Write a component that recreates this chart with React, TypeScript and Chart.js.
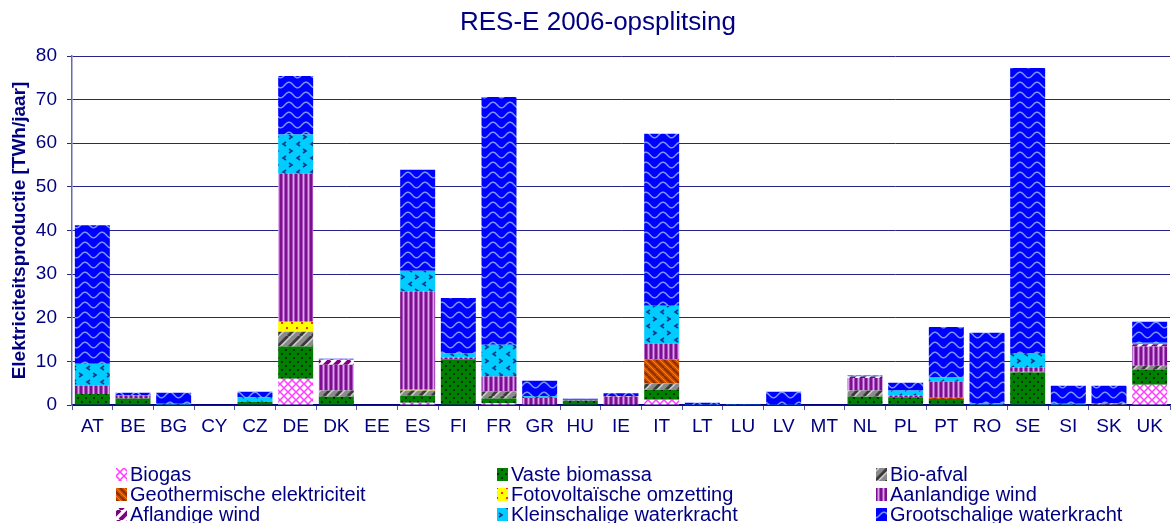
import React, { useEffect, useRef } from "react";
import { Chart, registerables } from "chart.js";

Chart.register(...registerables);

const countries = ["AT","BE","BG","CY","CZ","DE","DK","EE","ES","FI","FR","GR","HU","IE","IT","LT","LU","LV","MT","NL","PL","PT","RO","SE","SI","SK","UK"];

const biogas =        [0, 0.1, 0, 0, 0, 6.0, 0, 0, 0.5, 0, 0.45, 0, 0, 0.1, 1.2, 0, 0, 0, 0, 0, 0, 0, 0, 0, 0, 0, 4.65];
const vasteBiomassa = [2.5, 1.4, 0, 0, 0.75, 7.4, 1.9, 0, 1.6, 10.5, 1.05, 0, 1.0, 0, 2.3, 0, 0, 0, 0, 1.9, 1.75, 1.4, 0, 7.45, 0, 0, 3.5];
const bioAfval =      [0, 0, 0, 0, 0, 3.4, 1.4, 0, 1.2, 0, 1.6, 0, 0, 0, 1.4, 0, 0, 0, 0, 1.4, 0, 0, 0, 0.15, 0, 0.4, 0.85];
const geothermisch =  [0, 0, 0, 0, 0, 0, 0, 0, 0, 0, 0.1, 0, 0, 0, 5.6, 0, 0, 0, 0, 0, 0, 0.25, 0, 0, 0, 0, 0];
const fotovoltaisch = [0, 0, 0, 0, 0, 2.3, 0, 0, 0.2, 0, 0, 0, 0, 0, 0.05, 0, 0, 0, 0, 0, 0, 0, 0, 0, 0, 0, 0];
const aanlandigeWind =[1.9, 0.7, 0, 0, 0, 33.9, 5.9, 0, 22.5, 0.4, 3.35, 1.6, 0.1, 1.8, 3.5, 0, 0, 0, 0, 2.9, 0.45, 3.7, 0, 1.0, 0, 0, 4.4];
const aflandigeWind = [0, 0, 0, 0, 0, 0, 1.2, 0, 0, 0, 0, 0, 0, 0.1, 0, 0, 0, 0, 0, 0.35, 0, 0, 0, 0, 0, 0, 0.55];
const kleinWater =    [5.05, 0.1, 0.3, 0, 1.0, 9.0, 0.15, 0, 4.75, 0.9, 7.25, 0.4, 0.1, 0, 8.7, 0.05, 0.15, 0.05, 0, 0.1, 1.1, 0.95, 0.45, 3.3, 0.3, 0, 0.3];
const grootWater =    [31.75, 0.5, 2.5, 0, 1.3, 13.4, 0.05, 0, 23.15, 12.7, 56.8, 3.55, 0.25, 0.7, 39.4, 0.45, 0.1, 3.0, 0, 0.1, 1.8, 11.6, 16.1, 65.35, 4.1, 4.0, 4.85];

const seriesLabels = [
  "Biogas", "Vaste biomassa", "Bio-afval",
  "Geothermische elektriciteit", "Fotovoltaïsche omzetting", "Aanlandige wind",
  "Aflandige wind", "Kleinschalige waterkracht", "Grootschalige waterkracht",
];
const seriesData = [biogas, vasteBiomassa, bioAfval, geothermisch, fotovoltaisch, aanlandigeWind, aflandigeWind, kleinWater, grootWater];

const yTicks = [0, 10, 20, 30, 40, 50, 60, 70, 80];
const titleText = "RES-E 2006-opsplitsing";
const yTitle = "Elektriciteitsproductie [TWh/jaar]";

const FONT = '"Liberation Sans", Arial, Helvetica, sans-serif';
const NAVY = "#000080";

type Draw = (g: CanvasRenderingContext2D, w: number, h: number) => void;
function makePattern(w: number, h: number, draw: Draw): CanvasPattern {
  const c = document.createElement("canvas");
  c.width = w;
  c.height = h;
  const g = c.getContext("2d")!;
  draw(g, w, h);
  return g.createPattern(c, "repeat")!;
}

function buildPatterns(): CanvasPattern[] {
  const biogasP = makePattern(8, 8, (g, w, h) => {
    g.fillStyle = "#ffffff"; g.fillRect(0, 0, w, h);
    g.strokeStyle = "#ff3cff"; g.lineWidth = 1.5;
    g.beginPath();
    g.moveTo(0, 0); g.lineTo(8, 8);
    g.moveTo(8, 0); g.lineTo(0, 8);
    g.stroke();
  });
  const biomassP = makePattern(8, 8, (g, w, h) => {
    g.fillStyle = "#008000"; g.fillRect(0, 0, w, h);
    g.fillStyle = "#003000";
    g.fillRect(1, 1, 2, 2);
    g.fillRect(5, 5, 2, 2);
  });
  const afvalP = makePattern(12, 12, (g, w, h) => {
    g.fillStyle = "#8a8a8a"; g.fillRect(0, 0, w, h);
    g.lineWidth = 3; g.strokeStyle = "#3a3a3a";
    g.beginPath();
    for (const o of [-12, 0, 12]) { g.moveTo(o, 12); g.lineTo(o + 12, 0); }
    g.stroke();
    g.lineWidth = 1.5; g.strokeStyle = "#d0d0d0";
    g.beginPath();
    for (const o of [-12, 0, 12]) { g.moveTo(o + 3, 12); g.lineTo(o + 15, 0); }
    g.stroke();
  });
  const geoP = makePattern(8, 8, (g, w, h) => {
    g.fillStyle = "#cc5200"; g.fillRect(0, 0, w, h);
    g.lineWidth = 2; g.strokeStyle = "#8a3000";
    g.beginPath();
    for (const o of [-8, 0, 8]) { g.moveTo(o, 0); g.lineTo(o + 8, 8); }
    g.stroke();
    g.lineWidth = 1; g.strokeStyle = "#ff7a1a";
    g.beginPath();
    for (const o of [-8, 0, 8]) { g.moveTo(o + 4, 0); g.lineTo(o + 12, 8); }
    g.stroke();
  });
  const pvP = makePattern(10, 10, (g, w, h) => {
    g.fillStyle = "#ffff00"; g.fillRect(0, 0, w, h);
    g.fillStyle = "#ff3000";
    g.fillRect(1, 2, 2, 2);
    g.fillRect(6, 7, 2, 2);
  });
  const windP = makePattern(5, 2, (g) => {
    const cols = ["#7d0f8c", "#7d0f8c", "#a850bf", "#dba4ea", "#a850bf"];
    cols.forEach((c, i) => { g.fillStyle = c; g.fillRect(i, 0, 1, 2); });
  });
  const offP = makePattern(10, 10, (g, w, h) => {
    g.fillStyle = "#ffffff"; g.fillRect(0, 0, w, h);
    g.lineWidth = 4; g.strokeStyle = "#800080";
    g.beginPath();
    for (const o of [-10, 0, 10]) { g.moveTo(o, 10); g.lineTo(o + 10, 0); }
    g.stroke();
  });
  const kleinP = makePattern(14, 14, (g, w, h) => {
    g.fillStyle = "#00ccff"; g.fillRect(0, 0, w, h);
    g.strokeStyle = "#0a3a8a"; g.lineWidth = 1.6;
    g.beginPath();
    g.moveTo(6, 2); g.lineTo(3, 4); g.lineTo(6, 6);
    g.moveTo(9, 9); g.lineTo(12, 11); g.lineTo(9, 13);
    g.stroke();
  });
  const grootP = makePattern(17, 10, (g, w, h) => {
    g.fillStyle = "#0000ff"; g.fillRect(0, 0, w, h);
    g.strokeStyle = "#7397ff"; g.lineWidth = 1.6;
    for (const oy of [-10, 0, 10]) {
      g.beginPath();
      for (let x = -1; x <= 18; x += 0.5) {
        const y = oy + 5 - 2.8 * Math.cos((2 * Math.PI * x) / 17);
        if (x === -1) g.moveTo(x, y); else g.lineTo(x, y);
      }
      g.stroke();
    }
  });
  return [biogasP, biomassP, afvalP, geoP, pvP, windP, offP, kleinP, grootP];
}

export default function App() {
  const ref = useRef<HTMLCanvasElement | null>(null);

  useEffect(() => {
    if (!ref.current) return;
    const patterns = buildPatterns();

    const titlePlugin = {
      id: "customTitle",
      afterDraw(chart: any) {
        const ctx = chart.ctx as CanvasRenderingContext2D;
        ctx.save();
        ctx.font = `26px ${FONT}`;
        ctx.fillStyle = NAVY;
        ctx.textAlign = "center";
        ctx.textBaseline = "alphabetic";
        ctx.fillText(titleText, 598, 30);
        ctx.restore();
      },
    };

    const legendPlugin = {
      id: "customLegend",
      afterDraw(chart: any) {
        const ctx = chart.ctx as CanvasRenderingContext2D;
        const colX = [116, 497, 876];
        const rowY = [474, 494, 514];
        ctx.save();
        ctx.font = `20px ${FONT}`;
        ctx.textBaseline = "middle";
        ctx.textAlign = "left";
        seriesLabels.forEach((label, i) => {
          const col = i % 3;
          const row = Math.floor(i / 3);
          const x = colX[col];
          const y = rowY[row];
          ctx.fillStyle = patterns[i];
          ctx.fillRect(x, y - 6, 11, 13);
          ctx.fillStyle = NAVY;
          ctx.fillText(label, x + 14, y + 1);
        });
        ctx.restore();
      },
    };

    const chart = new Chart(ref.current, {
      type: "bar",
      data: {
        labels: countries,
        datasets: seriesData.map((d, i) => ({
          label: seriesLabels[i],
          data: d,
          backgroundColor: patterns[i],
          borderWidth: 0,
          barPercentage: 0.86,
          categoryPercentage: 1,
        })),
      },
      options: {
        responsive: false,
        animation: false,
        events: [],
        layout: { padding: { top: 56, right: 3, left: 0, bottom: 0 } },
        plugins: {
          legend: { display: false },
          title: { display: false },
          tooltip: { enabled: false },
        },
        scales: {
          x: {
            stacked: true,
            afterFit: (scale: any) => { scale.height = 118; },
            border: { display: true, color: NAVY, width: 1.5 },
            grid: {
              display: true,
              offset: true,
              drawOnChartArea: false,
              drawTicks: true,
              tickLength: 5,
              color: "#5050a0",
            },
            ticks: {
              color: NAVY,
              font: { family: FONT, size: 19 },
              padding: 5,
              maxRotation: 0,
              autoSkip: false,
            },
          },
          y: {
            stacked: true,
            min: 0,
            max: 80,
            afterFit: (scale: any) => { scale.width = 72; },
            afterBuildTicks: (scale: any) => {
              scale.ticks = yTicks.map((v) => ({ value: v }));
            },
            border: { display: true, color: "#6a6aae", width: 1.5 },
            grid: {
              display: true,
              color: "#24248a",
              lineWidth: 1,
              drawTicks: true,
              tickLength: 5,
            },
            ticks: {
              color: NAVY,
              font: { family: FONT, size: 19 },
              padding: 10,
            },
            title: {
              display: true,
              text: yTitle,
              color: NAVY,
              font: { family: FONT, size: 19, weight: "bold" },
              padding: { top: 8, bottom: 0 },
            },
          },
        },
      },
      plugins: [titlePlugin, legendPlugin],
    });

    return () => chart.destroy();
  }, []);

  return (
    <div style={{ position: "absolute", left: 0, top: 0, width: 1173, height: 523, background: "#ffffff" }}>
      <canvas ref={ref} width={1173} height={523} style={{ display: "block" }} />
    </div>
  );
}
